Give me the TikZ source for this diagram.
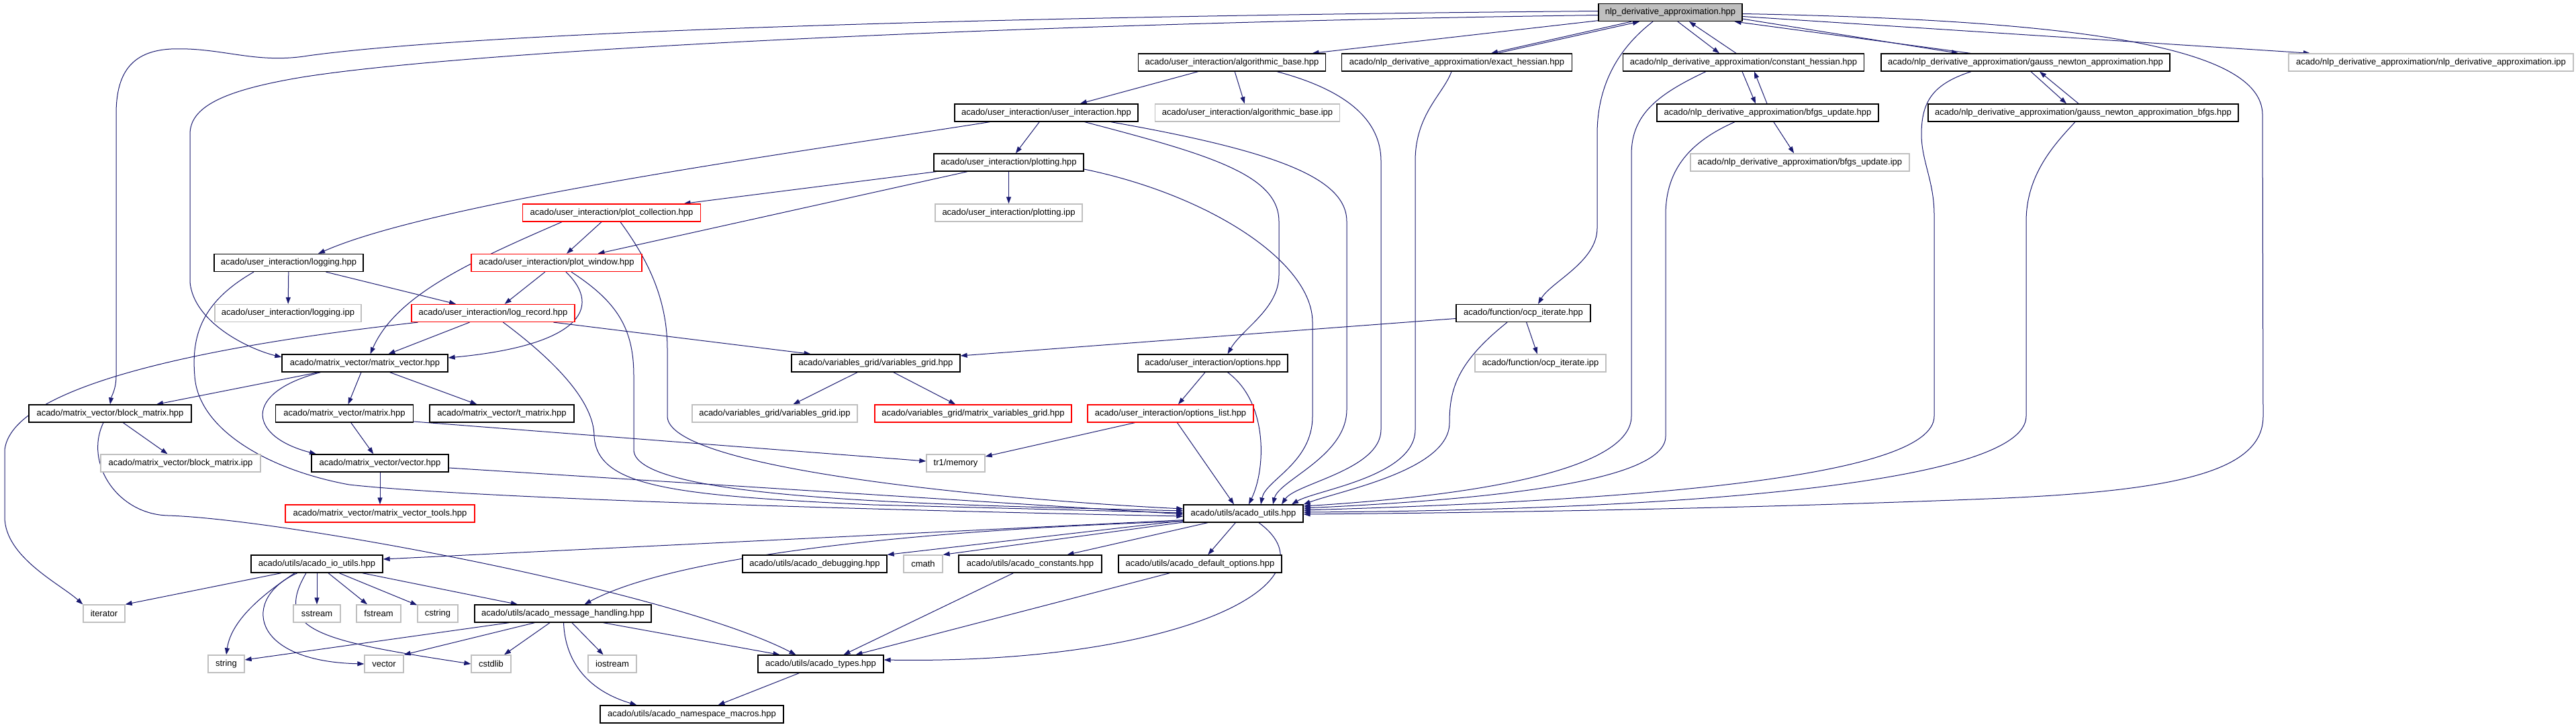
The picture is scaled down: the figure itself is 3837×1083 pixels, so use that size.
\documentclass[tikz,border=0pt]{standalone}
\usepackage{fontspec}
\setmainfont{Liberation Sans}
\usetikzlibrary{arrows.meta}
\definecolor{edgec}{RGB}{25,25,112}
\definecolor{grayb}{RGB}{191,191,191}
\pgfdeclarelayer{bgwhite}
\pgfdeclarelayer{edges}
\pgfsetlayers{bgwhite,edges,main}
\tikzset{
  nb/.style={draw=black, line width=1.3pt, inner sep=0pt, minimum height=26pt, fill=white,
    font=\fontsize{13}{16}\selectfont, text=black},
  gb/.style={nb, draw=grayb},
  rb/.style={nb, draw=red},
  tb/.style={nb, fill=grayb},
  dep/.style={draw=edgec, line width=1pt, -{Triangle[length=10pt,width=7pt]}}
}
\begin{document}
\begin{tikzpicture}[x=1pt,y=-1pt]
\begin{pgfonlayer}{bgwhite}
\fill[white] (0,0) rectangle (3837,1083);
\end{pgfonlayer}
\useasboundingbox (0,0) rectangle (3837,1083);
% rank 0
\node[tb, minimum width=214pt] (n0) at (2488,18.5) {nlp\_derivative\_approximation.hpp};
% rank 1
\node[nb, minimum width=279pt] (algb) at (1835,93) {acado/user\_interaction/algorithmic\_base.hpp};
\node[nb, minimum width=343pt] (exh) at (2170,93) {acado/nlp\_derivative\_approximation/exact\_hessian.hpp};
\node[nb, minimum width=359pt] (consth) at (2597,93) {acado/nlp\_derivative\_approximation/constant\_hessian.hpp};
\node[nb, minimum width=430pt] (gna) at (3017,93) {acado/nlp\_derivative\_approximation/gauss\_newton\_approximation.hpp};
\node[gb, minimum width=424pt] (nlpipp) at (3621,93) {acado/nlp\_derivative\_approximation/nlp\_derivative\_approximation.ipp};
% rank 2
\node[nb, minimum width=273pt] (ui) at (1558.5,168) {acado/user\_interaction/user\_interaction.hpp};
\node[gb, minimum width=275pt] (algbipp) at (1858,168) {acado/user\_interaction/algorithmic\_base.ipp};
\node[nb, minimum width=330pt] (bfgs) at (2633,168) {acado/nlp\_derivative\_approximation/bfgs\_update.hpp};
\node[nb, minimum width=462pt] (gnab) at (3103,168) {acado/nlp\_derivative\_approximation/gauss\_newton\_approximation\_bfgs.hpp};
% rank 3
\node[nb, minimum width=223pt] (plotting) at (1502.5,242) {acado/user\_interaction/plotting.hpp};
\node[gb, minimum width=326pt] (bfgsipp) at (2681,242) {acado/nlp\_derivative\_approximation/bfgs\_update.ipp};
% rank 4
\node[rb, minimum width=265pt] (plotcoll) at (911,317) {acado/user\_interaction/plot\_collection.hpp};
\node[gb, minimum width=219pt] (plottingipp) at (1502.5,317) {acado/user\_interaction/plotting.ipp};
% rank 5
\node[rb, minimum width=254pt] (plotwin) at (829,391.5) {acado/user\_interaction/plot\_window.hpp};
\node[nb, minimum width=222pt] (logging) at (430,391.5) {acado/user\_interaction/logging.hpp};
% rank 6
\node[gb, minimum width=218pt] (loggingipp) at (429,466.5) {acado/user\_interaction/logging.ipp};
\node[rb, minimum width=243pt] (logrec) at (734.5,466.5) {acado/user\_interaction/log\_record.hpp};
\node[nb, minimum width=200pt] (ocpit) at (2269,466.5) {acado/function/ocp\_iterate.hpp};
% rank 7
\node[nb, minimum width=247pt] (mv) at (543.5,541) {acado/matrix\_vector/matrix\_vector.hpp};
\node[nb, minimum width=251pt] (vg) at (1304.5,541) {acado/variables\_grid/variables\_grid.hpp};
\node[nb, minimum width=223pt] (opts) at (1806.5,541) {acado/user\_interaction/options.hpp};
\node[gb, minimum width=195pt] (ocpipp) at (2294.5,541) {acado/function/ocp\_iterate.ipp};
% rank 8
\node[nb, minimum width=242pt] (bm) at (164,616) {acado/matrix\_vector/block\_matrix.hpp};
\node[nb, minimum width=205pt] (mat) at (513,616) {acado/matrix\_vector/matrix.hpp};
\node[nb, minimum width=215pt] (tmat) at (747.5,616) {acado/matrix\_vector/t\_matrix.hpp};
\node[gb, minimum width=246pt] (vgipp) at (1154,616) {acado/variables\_grid/variables\_grid.ipp};
\node[rb, minimum width=293pt] (mvg) at (1449.5,616) {acado/variables\_grid/matrix\_variables\_grid.hpp};
\node[rb, minimum width=247pt] (optl) at (1743.5,616) {acado/user\_interaction/options\_list.hpp};
% rank 9
\node[gb, minimum width=238pt] (bmipp) at (269,690) {acado/matrix\_vector/block\_matrix.ipp};
\node[nb, minimum width=204pt] (vec) at (566,690) {acado/matrix\_vector/vector.hpp};
\node[gb, minimum width=87pt] (tr1) at (1423.5,690) {tr1/memory};
% rank 10
\node[rb, minimum width=282pt] (mvt) at (566,765) {acado/matrix\_vector/matrix\_vector\_tools.hpp};
\node[nb, minimum width=178pt] (au) at (1852,765) {acado/utils/acado\_utils.hpp};
% rank 11
\node[nb, minimum width=196pt] (aio) at (472,840) {acado/utils/acado\_io\_utils.hpp};
\node[nb, minimum width=215pt] (adbg) at (1213.5,840) {acado/utils/acado\_debugging.hpp};
\node[gb, minimum width=58pt] (cmath) at (1375,840) {cmath};
\node[nb, minimum width=213pt] (acon) at (1534.5,840) {acado/utils/acado\_constants.hpp};
\node[nb, minimum width=243pt] (adef) at (1787.5,840) {acado/utils/acado\_default\_options.hpp};
% rank 12
\node[gb, minimum width=62pt] (iter) at (155,914) {iterator};
\node[gb, minimum width=70pt] (sstream) at (472,914) {sstream};
\node[gb, minimum width=66pt] (fstream) at (564,914) {fstream};
\node[gb, minimum width=60pt] (cstring) at (652,914) {cstring};
\node[nb, minimum width=263pt] (amh) at (838.5,914) {acado/utils/acado\_message\_handling.hpp};
% rank 13
\node[gb, minimum width=54pt] (string) at (337,989) {string};
\node[gb, minimum width=58pt] (vector) at (572,989) {vector};
\node[gb, minimum width=59pt] (cstdlib) at (731.5,989) {cstdlib};
\node[gb, minimum width=72pt] (iostream) at (912,989) {iostream};
\node[nb, minimum width=187pt] (atypes) at (1222.5,989) {acado/utils/acado\_types.hpp};
% rank 14
\node[nb, minimum width=273pt] (ans) at (1030.5,1064) {acado/utils/acado\_namespace\_macros.hpp};

\begin{pgfonlayer}{edges}
% from top node
\draw[dep] (n0) -- (algb);
\draw[dep] ([xshift=-58pt]n0.south) -- ([xshift=51pt]exh.north);
\draw[dep] ([xshift=60pt]exh.north) -- ([xshift=-46pt]n0.south);
\draw[dep] ([xshift=11pt]n0.south) -- ([xshift=-36pt]consth.north);
\draw[dep] ([xshift=-11pt]consth.north) -- ([xshift=28pt]n0.south);
\draw[dep] ([yshift=4pt]n0.south east) -- ([xshift=-100pt]gna.north);
\draw[dep] ([xshift=-82pt]gna.north) -- ([xshift=-12pt]n0.south east);
\draw[dep] ([yshift=-6pt]n0.east) -- ([xshift=-180pt]nlpipp.north);
\draw[dep] ([yshift=-2pt]n0.east) .. controls (3100,30) and (3368,70) .. (3370,170) -- (3371,620)
   .. controls (3371,700) and (3250,730) .. (2986,742) .. controls (2600,758) and (2200,764) .. ([yshift=-1pt]au.east);
\draw[dep] ([xshift=-26pt]n0.south) .. controls (2400,80) and (2379,140) .. (2379,200) -- (2379,340)
   .. controls (2379,390) and (2310,420) .. ([xshift=22pt]ocpit.north);
\draw[dep] ([yshift=2pt]n0.west) .. controls (1400,25) and (700,50) .. (459,83)
   .. controls (380,96) and (330,70) .. (255,73) .. controls (195,76) and (173,110) .. (173,170)
   -- (173,560) .. controls (173,580) and (166,590) .. (bm.north);
\draw[dep] ([yshift=-4pt]n0.west) .. controls (1500,35) and (700,75) .. (450,115)
   .. controls (330,135) and (283,160) .. (283,200) -- (283,420)
   .. controls (288,480) and (370,520) .. ([yshift=9pt]mv.west);
% rank 1
\draw[dep] (algb) -- (ui);
\draw[dep] (algb) -- (algbipp);
\draw[dep] ([xshift=67pt]algb.south) .. controls (1990,130) and (2057,170) .. (2057,240) -- (2057,640)
   .. controls (2057,700) and (1930,720) .. ([xshift=57pt]au.north);
\draw[dep] ([xshift=-8pt]exh.south) .. controls (2150,140) and (2108,170) .. (2108,240) -- (2108,640)
   .. controls (2108,710) and (1960,730) .. ([xshift=72pt]au.north);
\draw[dep] ([xshift=-2pt]consth.south) -- ([xshift=-18pt]bfgs.north);
\draw[dep] ([xshift=-1pt]bfgs.north) -- ([xshift=16pt]consth.south);
\draw[dep] ([xshift=-56pt]consth.south) .. controls (2470,140) and (2430,170) .. (2430,230) -- (2430,620)
   .. controls (2430,690) and (2250,735) .. ([yshift=11pt]au.east);
\draw[dep] ([xshift=8pt]gna.south) -- ([xshift=-25pt]gnab.north);
\draw[dep] ([xshift=-7pt]gnab.north) -- ([xshift=21pt]gna.south);
\draw[dep] ([xshift=-81pt]gna.south) .. controls (2880,125) and (2862,150) .. (2862,200)
   .. controls (2862,240) and (2881,270) .. (2881,320) -- (2881,620)
   .. controls (2881,710) and (2450,745) .. ([yshift=5pt]au.east);
% rank 2
\draw[dep] (bfgs) -- (bfgsipp);
\draw[dep] ([xshift=-49pt]bfgs.south) .. controls (2520,210) and (2481,250) .. (2481,320) -- (2481,650)
   .. controls (2481,720) and (2200,745) .. ([yshift=8pt]au.east);
\draw[dep] ([xshift=-12pt]gnab.south) .. controls (3060,215) and (3018,260) .. (3018,330) -- (3018,620)
   .. controls (3018,720) and (2500,760) .. ([yshift=2pt]au.east);
\draw[dep] (ui) -- (plotting);
\draw[dep] ([xshift=-84pt]ui.south) .. controls (1200,225) and (650,300) .. ([xshift=44pt]logging.north);
\draw[dep] ([xshift=57pt]ui.south) .. controls (1800,230) and (1905,260) .. (1905,330) -- (1905,410)
   .. controls (1905,460) and (1850,490) .. ([xshift=22pt]opts.north);
\draw[dep] ([xshift=96pt]ui.south) .. controls (1900,225) and (2006,265) .. (2006,330) -- (2006,610)
   .. controls (2006,680) and (1905,715) .. ([xshift=44pt]au.north);
% rank 3
\draw[dep] (plotting) -- (plotcoll);
\draw[dep] (plotting) -- (plotwin);
\draw[dep] (plotting) -- (plottingipp);
\draw[dep] ([yshift=-10pt]plotting.east) .. controls (1800,290) and (1955,390) .. (1955,480) -- (1955,620)
   .. controls (1955,690) and (1885,715) .. ([xshift=26pt]au.north);
% rank 4
\draw[dep] (plotcoll) -- (plotwin);
\draw[dep] ([xshift=-74pt]plotcoll.south) .. controls (700,390) and (590,440) .. ([xshift=8pt]mv.north);
\draw[dep] ([xshift=13pt]plotcoll.south) .. controls (960,380) and (994,440) .. (994,520) -- (994,620)
   .. controls (994,700) and (1500,745) .. ([yshift=7pt]au.west);
% rank 5
\draw[dep] (plotwin) -- (logrec);
\draw[dep] ([xshift=14pt]plotwin.south) .. controls (900,460) and (860,515) .. ([yshift=8pt]mv.east);
\draw[dep] ([xshift=22pt]plotwin.south) .. controls (920,450) and (944,490) .. (944,560) -- (944,670)
   .. controls (944,745) and (1400,752) .. ([yshift=4pt]au.west);
\draw[dep] (logging) -- (loggingipp);
\draw[dep] (logging) -- (logrec);
\draw[dep] ([xshift=-52pt]logging.south) .. controls (300,450) and (285,500) .. (290,560)
   .. controls (295,640) and (400,700) .. (520,722) .. controls (700,742) and (1300,760) .. ([yshift=-4pt]au.west);
% rank 6
\draw[dep] (logrec) -- (mv);
\draw[dep] ([xshift=90pt]logrec.south) -- ([xshift=-97pt]vg.north);
\draw[dep] ([xshift=-112pt]logrec.south) .. controls (400,505) and (20,560) .. (7,670) -- (7,770)
   .. controls (7,830) and (90,870) .. (iter.north west);
\draw[dep] ([xshift=15pt]logrec.south) .. controls (830,540) and (885,600) .. (885,650)
   .. controls (890,725) and (1000,738) .. (1300,752) -- ([yshift=1pt]au.west);
\draw[dep] ([yshift=-8pt]ocpit.west) -- ([yshift=11pt]vg.east);
\draw[dep] (ocpit) -- (ocpipp);
\draw[dep] ([xshift=-24pt]ocpit.south) .. controls (2170,540) and (2159,580) .. (2159,630)
   .. controls (2159,700) and (2000,730) .. (au.north east);
% rank 7
\draw[dep] (mv) -- (bm);
\draw[dep] (mv) -- (mat);
\draw[dep] (mv) -- (tmat);
\draw[dep] ([xshift=-66pt]mv.south) .. controls (360,585) and (370,650) .. ([xshift=-95pt]vec.north);
\draw[dep] (vg) -- (vgipp);
\draw[dep] (vg) -- (mvg);
\draw[dep] (opts) -- (optl);
\draw[dep] ([xshift=22pt]opts.south) .. controls (1890,600) and (1885,700) .. ([xshift=8pt]au.north);
% rank 8
\draw[dep] (bm) -- (bmipp);
\draw[dep] ([xshift=-10pt]bm.south) .. controls (125,690) and (175,766) .. (250,768)
   .. controls (420,773) and (1000,880) .. ([xshift=-37pt]atypes.north);
\draw[dep] (mat) -- (vec);
\draw[dep] ([yshift=-12pt]mat.east) -- ([yshift=3pt]tr1.west);
\draw[dep] ([xshift=-53pt]optl.south) -- ([yshift=10pt]tr1.east);
\draw[dep] ([xshift=10pt]optl.south) -- ([xshift=-14pt]au.north);
% rank 9
\draw[dep] (vec) -- (mvt);
\draw[dep] ([yshift=-7pt]vec.east) -- ([yshift=-1pt]au.west);
% rank 10
\draw[dep] ([yshift=4pt]au.south west) -- ([yshift=7pt]aio.east);
\draw[dep] ([yshift=2pt]au.south west) .. controls (1350,790) and (1000,830) .. ([xshift=32pt]amh.north);
\draw[dep] ([yshift=3pt]au.south west) -- (adbg.north east);
\draw[dep] ([xshift=3pt,yshift=1pt]au.south west) -- (cmath.north east);
\draw[dep] ([xshift=-53pt]au.south) -- ([xshift=55pt]acon.north);
\draw[dep] (au) -- (adef);
\draw[dep] ([xshift=23pt]au.south) .. controls (2000,870) and (1750,990) .. ([yshift=6pt]atypes.east);
% rank 11
\draw[dep] ([xshift=-53pt]aio.south) -- (iter.north east);
\draw[dep] (aio) -- (sstream);
\draw[dep] (aio) -- (fstream);
\draw[dep] (aio) -- (cstring);
\draw[dep] (aio) -- (amh);
\draw[dep] ([xshift=-33pt]aio.south) .. controls (400,880) and (345,920) .. (string.north);
\draw[dep] ([xshift=-29pt]aio.south) .. controls (360,890) and (370,985) .. (vector.west);
\draw[dep] ([xshift=-16pt]aio.south) .. controls (405,940) and (480,955) .. (cstdlib.west);
\draw[dep] ([xshift=-25pt]acon.south) -- ([xshift=34pt]atypes.north);
\draw[dep] ([xshift=-45pt]adef.south) -- ([xshift=52pt]atypes.north);
% rank 12
\draw[dep] ([xshift=-80pt]amh.south) -- ([yshift=6pt]string.east);
\draw[dep] ([xshift=-42pt]amh.south) -- (vector.north east);
\draw[dep] (amh) -- (cstdlib);
\draw[dep] (amh) -- (iostream);
\draw[dep] ([xshift=60pt]amh.south) -- ([xshift=-61pt]atypes.north);
\draw[dep] ([xshift=1pt]amh.south) .. controls (842,990) and (880,1030) .. ([xshift=-82pt]ans.north);
% rank 13
\draw[dep] ([xshift=-32pt]atypes.south) -- ([xshift=39pt]ans.north);
\end{pgfonlayer}
\end{tikzpicture}
\end{document}
